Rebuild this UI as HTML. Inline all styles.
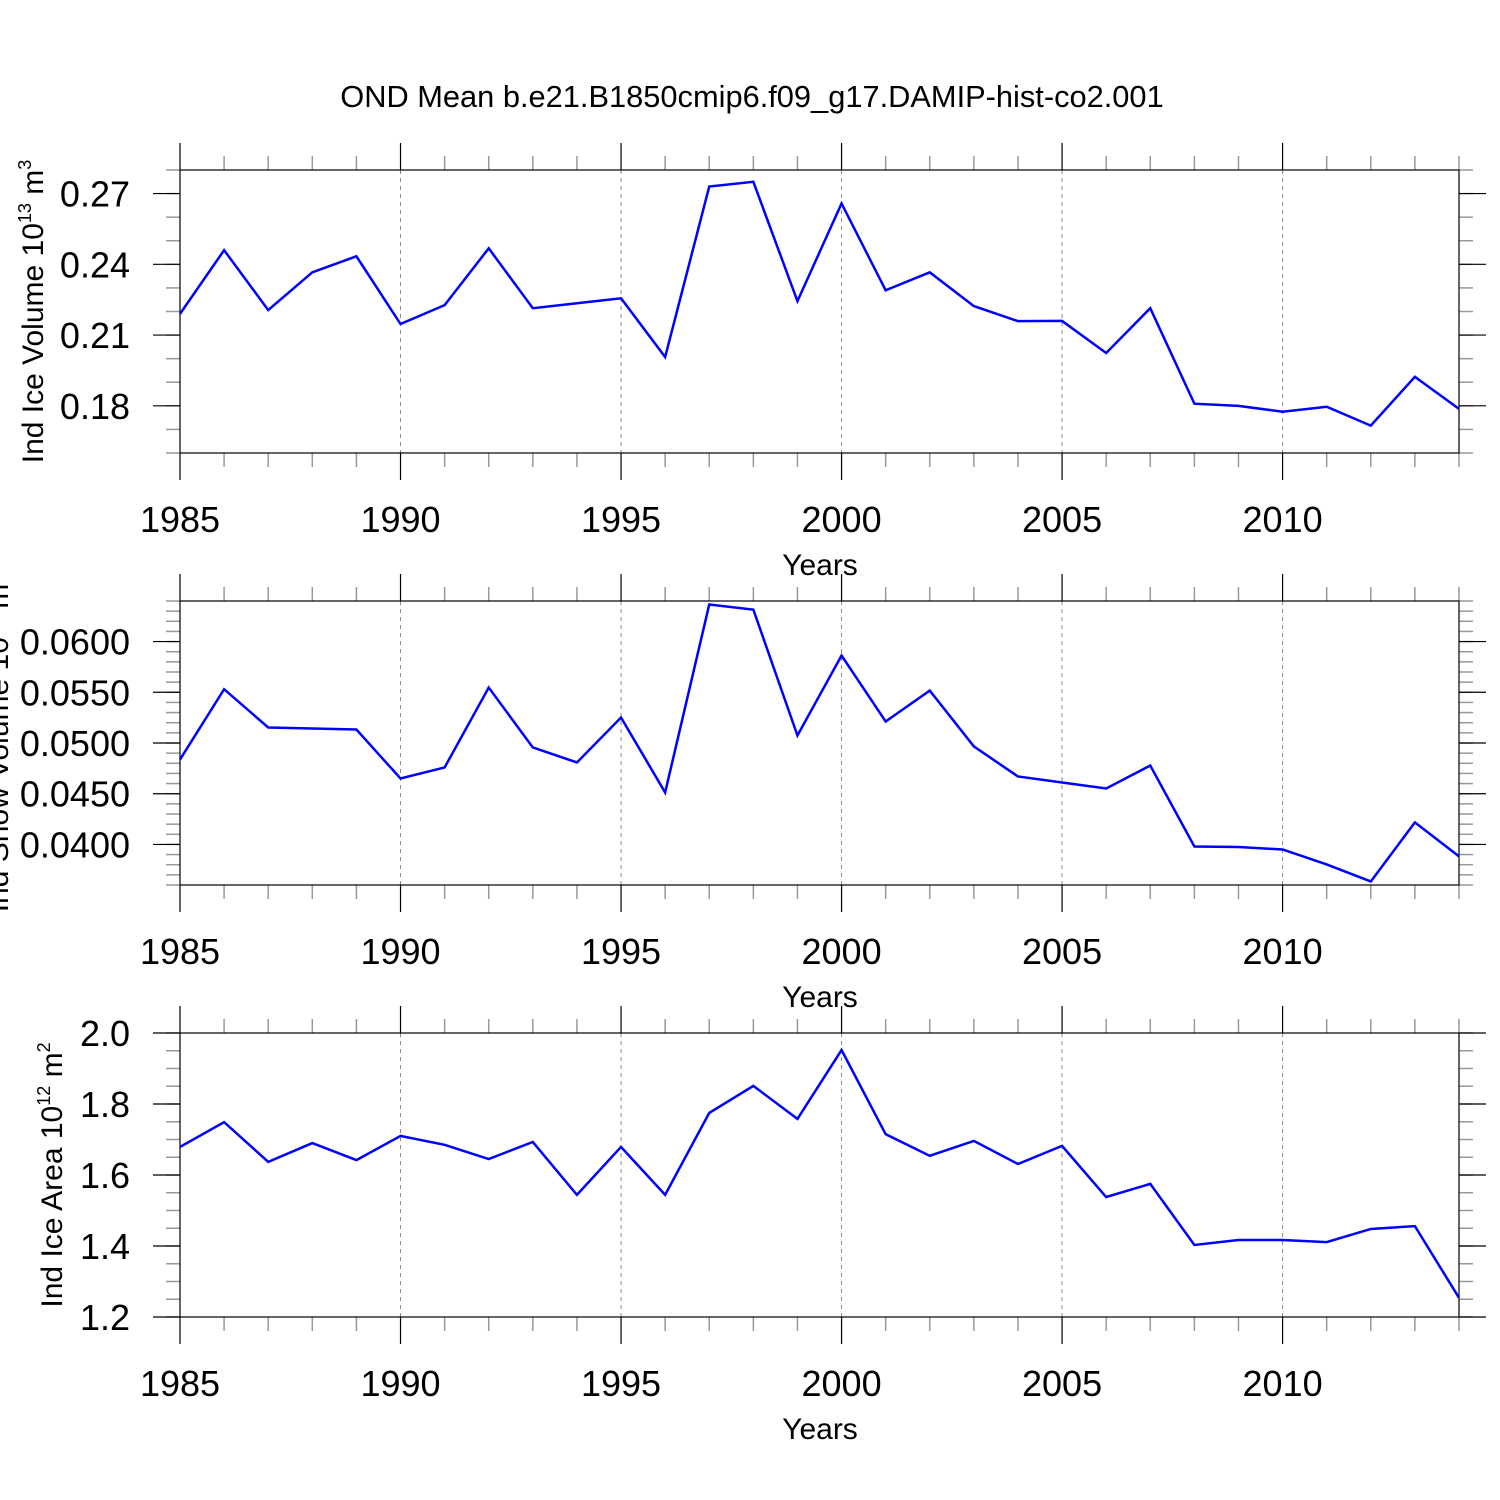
<!DOCTYPE html>
<html><head><meta charset="utf-8"><style>
html,body{margin:0;padding:0;background:#fff;width:1500px;height:1500px;overflow:hidden}
svg{font-family:"Liberation Sans",Helvetica,sans-serif}
</style></head><body>
<svg id="chart" width="1500" height="1500" viewBox="0 0 1500 1500" xmlns="http://www.w3.org/2000/svg">
<text x="752" y="107" font-size="30.8" text-anchor="middle">OND Mean b.e21.B1850cmip6.f09_g17.DAMIP-hist-co2.001</text>
</svg>
<script>
const years = [1985,1986,1987,1988,1989,1990,1991,1992,1993,1994,1995,1996,1997,1998,1999,2000,2001,2002,2003,2004,2005,2006,2007,2008,2009,2010,2011,2012,2013,2014];
const iceVolume = [0.219,0.246,0.2206,0.2366,0.2434,0.2147,0.2227,0.2468,0.2214,0.2235,0.2256,0.2007,0.273,0.275,0.2244,0.2658,0.229,0.2366,0.2223,0.2159,0.216,0.2024,0.2214,0.1809,0.18,0.1775,0.1796,0.1716,0.1923,0.1787];
const snowVolume = [0.04837,0.0553,0.05153,0.05143,0.05133,0.0465,0.04759,0.05547,0.04956,0.04808,0.05251,0.04512,0.06365,0.06315,0.05074,0.05862,0.05212,0.05517,0.04966,0.0467,0.04611,0.04552,0.04778,0.0398,0.03975,0.0395,0.03803,0.03635,0.04217,0.03882];
const iceArea = [1.679,1.749,1.637,1.690,1.642,1.710,1.685,1.645,1.693,1.544,1.679,1.544,1.775,1.851,1.758,1.952,1.715,1.654,1.696,1.631,1.682,1.538,1.575,1.403,1.417,1.417,1.411,1.448,1.456,1.254];
const xTickLabels = [1985,1990,1995,2000,2005,2010];
const ticks1 = [0.18,0.21,0.24,0.27];
const ticks2 = [0.04,0.045,0.05,0.055,0.06];
const ticks3 = [1.2,1.4,1.6,1.8,2.0];

const NS='http://www.w3.org/2000/svg';
const svg=document.getElementById('chart');
function mk(tag,attrs,parent){const e=document.createElementNS(NS,tag);for(const k in attrs)e.setAttribute(k,attrs[k]);(parent||svg).appendChild(e);return e;}
const X0=180,X1=1459;
function xs(y){return X0+(y-1985)/(2014-1985)*(X1-X0);}

function panel(cfg){
  const {top,bot,ymin,ymax,ticks,minorStep,dec,data,label,name,labelX}=cfg;
  const g=mk('g',{});
  
  
  const ys=v=>bot-(v-ymin)/(ymax-ymin)*(bot-top);
  for(const t of xTickLabels){ if(t===1985) continue;
    const l=mk('line',{x1:xs(t),x2:xs(t),y1:top,y2:bot,stroke:'#888','stroke-width':1,'stroke-dasharray':'4,4'},g);
    
    
  }
  for(let y=1985;y<=2014;y++){
    const major=(y%5===0);const len=major?27:14;const x=xs(y);
    mk('line',{x1:x,x2:x,y1:top-len,y2:top,stroke:major?'#000':'#999','stroke-width':major?1.2:1.5},g);
    mk('line',{x1:x,x2:x,y1:bot,y2:bot+len,stroke:major?'#000':'#999','stroke-width':major?1.2:1.5},g);
  }
  const nMin=Math.round((ymax-ymin)/minorStep);
  for(let i=0;i<=nMin;i++){const v=ymin+i*minorStep;const y=ys(v);
    mk('line',{x1:X0-14,x2:X0,y1:y,y2:y,stroke:'#999','stroke-width':1.5},g);
    mk('line',{x1:X1,x2:X1+14,y1:y,y2:y,stroke:'#999','stroke-width':1.5},g);
  }
  for(const t of ticks){const y=ys(t);
    mk('line',{x1:X0-27,x2:X0,y1:y,y2:y,stroke:'#000','stroke-width':1.2},g);
    mk('line',{x1:X1,x2:X1+27,y1:y,y2:y,stroke:'#000','stroke-width':1.2},g);
    const tx=mk('text',{x:X0-50,y:y+13,'font-size':36,'text-anchor':'end'},g);
    tx.textContent=t.toFixed(dec);
    
    
  }
  const r=mk('rect',{x:X0,y:top,width:X1-X0,height:bot-top,fill:'none',stroke:'#000','stroke-width':1.2},g);
  
  
  for(const t of xTickLabels){
    const tx=mk('text',{x:xs(t),y:bot+79,'font-size':36,'text-anchor':'middle'},g);
    tx.textContent=t;
    
    
  }
  const xt=mk('text',{x:820,y:bot+122,'font-size':30,'text-anchor':'middle'},g);
  xt.textContent='Years';
  
  
  const cy=(top+bot)/2;
  const yl=mk('text',{x:labelX,y:cy,'font-size':30,'text-anchor':'middle',transform:`rotate(-90 ${labelX} ${cy})`},g);
  
  
  yl.innerHTML=label;
  const pts=data.map((v,i)=>xs(years[i])+','+ys(v)).join(' ');
  const pl=mk('polyline',{points:pts,fill:'none',stroke:'#0000ff','stroke-width':2.5,'stroke-linejoin':'miter'},g);
  
  
}
panel({top:170,bot:453,ymin:0.16,ymax:0.28,ticks:ticks1,minorStep:0.01,dec:2,data:iceVolume,name:'ice-volume',labelX:43,
  label:'Ind Ice Volume 10<tspan font-size="18" dy="-12">13</tspan><tspan dy="12"> m</tspan><tspan font-size="18" dy="-12">3</tspan>'});
panel({top:601,bot:885,ymin:0.036,ymax:0.064,ticks:ticks2,minorStep:0.001,dec:4,data:snowVolume,name:'snow-volume',labelX:8,
  label:'Ind Snow Volume 10<tspan font-size="18" dy="-12">12</tspan><tspan dy="12"> m</tspan><tspan font-size="18" dy="-12">3</tspan>'});
panel({top:1033,bot:1317,ymin:1.2,ymax:2.0,ticks:ticks3,minorStep:0.05,dec:1,data:iceArea,name:'ice-area',labelX:62,
  label:'Ind Ice Area 10<tspan font-size="18" dy="-12">12</tspan><tspan dy="12"> m</tspan><tspan font-size="18" dy="-12">2</tspan>'});
</script>
</body></html>
